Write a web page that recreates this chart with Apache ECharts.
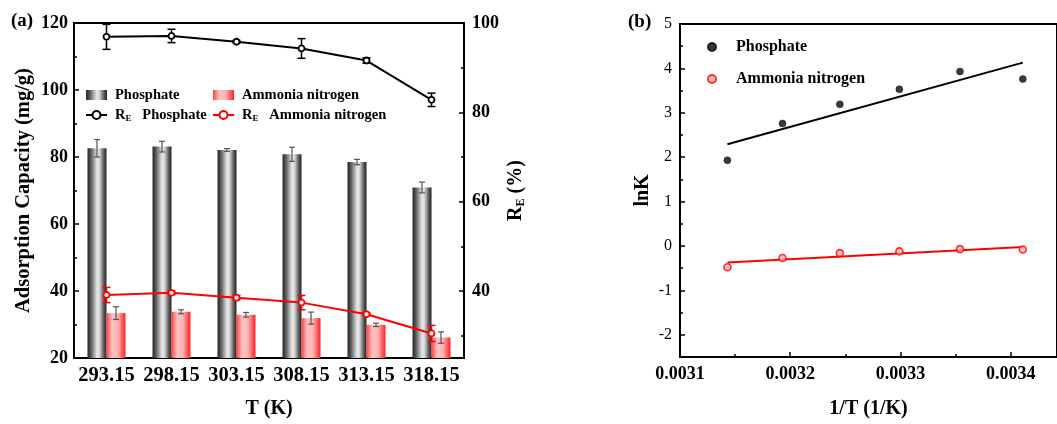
<!DOCTYPE html>
<html>
<head>
<meta charset="utf-8">
<script src="https://cdn.jsdelivr.net/npm/echarts@6/dist/echarts.min.js"></script>
<style>
  html, body { margin: 0; padding: 0; background: #fff; }
  #chart { width: 1057px; height: 424px; }
</style>
</head>
<body>
<div id="chart"></div>
<script>
// ---- (a) adsorption capacity and removal efficiency vs temperature ----
const temps = ['293.15', '298.15', '303.15', '308.15', '313.15', '318.15'];
const capPhosphate = [82.6, 83.1, 82.1, 80.8, 78.5, 70.9];
const capPhosphateErr = [2.6, 1.6, 0.4, 2.1, 0.8, 1.6];
const capAmmonia = [33.4, 33.8, 32.9, 31.9, 29.9, 26.1];
const capAmmoniaErr = [1.9, 0.6, 0.7, 1.8, 0.5, 1.7];
const rePhosphate = [96.9, 97.1, 95.8, 94.3, 91.6, 82.8];
const rePhosphateErr = [2.8, 1.5, 0.3, 2.2, 0.6, 1.5];
const reAmmonia = [39.1, 39.6, 38.5, 37.4, 34.8, 30.5];
const reAmmoniaErr = [1.7, 0.4, 0.5, 1.6, 0.3, 1.8];
const reTicks = [40, 60, 80, 100];
const reMinorTicks = [30, 50, 70, 90];

// ---- (b) van't Hoff plot ----
const invT = [0.003143, 0.003193, 0.003245, 0.003299, 0.003354, 0.003411];
const lnKPhosphate = [1.93, 2.76, 3.19, 3.53, 3.93, 3.76];
const lnKAmmonia = [-0.48, -0.27, -0.16, -0.12, -0.07, -0.08];
const fitX = [0.003143, 0.003411];
const fitPhosphate = [2.29, 4.13];
const fitAmmonia = [-0.37, -0.02];
const lnKTicks = [-2, -1, 0, 1, 2, 3, 4, 5];
const lnKMinorTicks = [-1.5, -0.5, 0.5, 1.5, 2.5, 3.5, 4.5];

const SERIF = '"Liberation Serif", "Times New Roman", serif';
const BAR_W = 19;

const grayFill = new echarts.graphic.LinearGradient(0, 0, 1, 0, [
  { offset: 0, color: '#262626' },
  { offset: 0.18, color: '#5a5a5a' },
  { offset: 0.5, color: '#e6e6e6' },
  { offset: 0.62, color: '#dcdcdc' },
  { offset: 0.85, color: '#5e5e5e' },
  { offset: 1, color: '#202020' }
]);
const redFill = new echarts.graphic.LinearGradient(0, 0, 1, 0, [
  { offset: 0, color: '#ff4040' },
  { offset: 0.3, color: '#ffc2c2' },
  { offset: 0.6, color: '#ffb3b3' },
  { offset: 1, color: '#ff2020' }
]);

function withErr(vals, errs) {
  return vals.map((v, i) => [i, v - errs[i], v + errs[i]]);
}

// vertical error bar with caps, shifted sideways by dx pixels
function errorBars(color, dx, capHalf, width) {
  return function (params, api) {
    const x = api.value(0);
    const lo = api.coord([x, api.value(1)]);
    const hi = api.coord([x, api.value(2)]);
    const cx = lo[0] + dx;
    const style = { stroke: color, lineWidth: width };
    return {
      type: 'group',
      children: [
        { type: 'line', shape: { x1: cx, y1: lo[1], x2: cx, y2: hi[1] }, style },
        { type: 'line', shape: { x1: cx - capHalf, y1: lo[1], x2: cx + capHalf, y2: lo[1] }, style },
        { type: 'line', shape: { x1: cx - capHalf, y1: hi[1], x2: cx + capHalf, y2: hi[1] }, style }
      ]
    };
  };
}

const legendNames = {
  'Phosphate': 'Phosphate',
  'Ammonia nitrogen': 'Ammonia nitrogen',
  'RE Phosphate': '{r|R}{s|E}   Phosphate',
  'RE Ammonia nitrogen': '{r|R}{s|E}   Ammonia nitrogen',
  'lnK Phosphate': 'Phosphate',
  'lnK Ammonia nitrogen': 'Ammonia nitrogen'
};

const legendText = {
  fontFamily: SERIF, fontWeight: 'bold', fontSize: 14.5, color: '#000',
  lineHeight: 16, padding: [0, 0, 0, 3],
  rich: {
    r: { fontFamily: SERIF, fontWeight: 'bold', fontSize: 14.5, lineHeight: 16, color: '#000' },
    s: { fontFamily: SERIF, fontWeight: 'bold', fontSize: 9, lineHeight: 10, verticalAlign: 'bottom', color: '#000' }
  }
};

const axisLineStyle = { color: '#000', width: 2 };
const tickStyle = { color: '#000', width: 1.5 };

const option = {
  animation: false,
  backgroundColor: '#fff',
  title: [
    { text: '(a)', left: 11, top: 12, padding: 0,
      textStyle: { fontFamily: SERIF, fontWeight: 'bold', fontSize: 19, color: '#000' } },
    { text: '(b)', left: 628, top: 13, padding: 0,
      textStyle: { fontFamily: SERIF, fontWeight: 'bold', fontSize: 19, color: '#000' } }
  ],
  legend: [
    {
      orient: 'vertical', left: 85, top: 87, padding: 0, itemGap: 4,
      itemWidth: 21, itemHeight: 10, selectedMode: false,
      data: [{ name: 'Phosphate', icon: 'rect' }, { name: 'RE Phosphate' }],
      formatter: n => legendNames[n], textStyle: legendText
    },
    {
      orient: 'vertical', left: 212, top: 87, padding: 0, itemGap: 4,
      itemWidth: 21, itemHeight: 10, selectedMode: false,
      data: [{ name: 'Ammonia nitrogen', icon: 'rect' }, { name: 'RE Ammonia nitrogen' }],
      formatter: n => legendNames[n], textStyle: legendText
    },
    {
      orient: 'vertical', left: 707, top: 38, padding: 0, itemGap: 14,
      itemWidth: 8, itemHeight: 8, selectedMode: false,
      data: [{ name: 'lnK Phosphate', icon: 'circle' }, { name: 'lnK Ammonia nitrogen', icon: 'circle' }],
      formatter: n => legendNames[n],
      textStyle: { fontFamily: SERIF, fontWeight: 'bold', fontSize: 16, color: '#000', lineHeight: 18, padding: [0, 0, 0, 15] }
    }
  ],
  grid: [
    { left: 74, top: 23, width: 390, height: 338, show: true, borderColor: '#000', borderWidth: 2, backgroundColor: 'transparent' },
    { left: 680, top: 24, width: 379, height: 336, show: true, borderColor: '#000', borderWidth: 2, backgroundColor: 'transparent' }
  ],
  xAxis: [
    {
      type: 'category', gridIndex: 0, data: temps, boundaryGap: true,
      axisLine: { onZero: false, lineStyle: axisLineStyle },
      axisTick: { show: false },
      axisLabel: { interval: 0, margin: 7, fontFamily: SERIF, fontWeight: 'bold', fontSize: 20.5, color: '#000' },
      name: 'T (K)', nameLocation: 'middle', nameGap: 41,
      nameTextStyle: { fontFamily: SERIF, fontWeight: 'bold', fontSize: 20, color: '#000' }
    },
    {
      type: 'value', gridIndex: 1, min: 0.0031, max: 0.003442, interval: 0.0001,
      axisLine: { onZero: false, lineStyle: axisLineStyle },
      axisTick: { inside: true, length: 5, lineStyle: tickStyle },
      minorTick: { show: true, splitNumber: 2, length: 3, lineStyle: tickStyle },
      splitLine: { show: false },
      axisLabel: { margin: 8, fontFamily: SERIF, fontWeight: 'bold', fontSize: 18, color: '#000',
        formatter: v => v.toFixed(4) },
      name: '1/T (1/K)', nameLocation: 'middle', nameGap: 42,
      nameTextStyle: { fontFamily: SERIF, fontWeight: 'bold', fontSize: 20, color: '#000' }
    }
  ],
  yAxis: [
    {
      type: 'value', gridIndex: 0, position: 'left', min: 20, max: 120, interval: 20,
      axisLine: { show: true, onZero: false, lineStyle: axisLineStyle },
      axisTick: { show: true, inside: true, length: 5, lineStyle: tickStyle },
      minorTick: { show: true, splitNumber: 2, length: 3, lineStyle: tickStyle },
      splitLine: { show: false },
      axisLabel: { margin: 6, fontFamily: SERIF, fontWeight: 'bold', fontSize: 18, color: '#000' },
      name: 'Adsorption Capacity (mg/g)', nameLocation: 'middle', nameGap: 40, nameRotate: 90,
      nameTextStyle: { fontFamily: SERIF, fontWeight: 'bold', fontSize: 20.5, color: '#000' }
    },
    {
      type: 'value', gridIndex: 0, position: 'right', min: 25, max: 100,
      axisLine: { show: true, onZero: false, lineStyle: axisLineStyle },
      axisTick: { show: true, inside: true, length: 5, lineStyle: tickStyle, customValues: reTicks },
      splitLine: { show: false },
      axisLabel: { margin: 8, fontFamily: SERIF, fontWeight: 'bold', fontSize: 18, color: '#000', customValues: reTicks },
      name: '{r|R}{s|E}{r| (%)}', nameLocation: 'middle', nameGap: 41, nameRotate: 90,
      nameTextStyle: {
        fontFamily: SERIF, fontWeight: 'bold', fontSize: 20, color: '#000',
        rich: {
          r: { fontFamily: SERIF, fontWeight: 'bold', fontSize: 20, lineHeight: 22, color: '#000' },
          s: { fontFamily: SERIF, fontWeight: 'bold', fontSize: 12, lineHeight: 12, verticalAlign: 'bottom', color: '#000' }
        }
      }
    },
    {
      type: 'value', gridIndex: 0, position: 'right', min: 25, max: 100,
      axisLine: { show: false },
      axisTick: { show: true, inside: true, length: 3, lineStyle: tickStyle, customValues: reMinorTicks },
      axisLabel: { show: false },
      splitLine: { show: false }
    },
    {
      type: 'value', gridIndex: 1, position: 'left', min: -2.5, max: 5,
      axisLine: { show: true, onZero: false, lineStyle: axisLineStyle },
      axisTick: { show: true, inside: true, length: 5, lineStyle: tickStyle, customValues: lnKTicks },
      splitLine: { show: false },
      axisLabel: { margin: 8, fontFamily: SERIF, fontSize: 16, color: '#000', customValues: lnKTicks },
      name: 'lnK', nameLocation: 'middle', nameGap: 27, nameRotate: 90,
      nameTextStyle: { fontFamily: SERIF, fontWeight: 'bold', fontSize: 20, color: '#000' }
    },
    {
      type: 'value', gridIndex: 1, position: 'left', min: -2.5, max: 5,
      axisLine: { show: false },
      axisTick: { show: true, inside: true, length: 3, lineStyle: tickStyle, customValues: lnKMinorTicks },
      axisLabel: { show: false },
      splitLine: { show: false }
    }
  ],
  series: [
    {
      name: 'Phosphate', type: 'bar', xAxisIndex: 0, yAxisIndex: 0,
      data: capPhosphate, barWidth: BAR_W, barGap: '0%',
      itemStyle: { color: grayFill }
    },
    {
      name: 'Ammonia nitrogen', type: 'bar', xAxisIndex: 0, yAxisIndex: 0,
      data: capAmmonia, barWidth: BAR_W, barGap: '0%',
      itemStyle: { color: redFill }
    },
    {
      type: 'custom', xAxisIndex: 0, yAxisIndex: 0, z: 3,
      data: withErr(capPhosphate, capPhosphateErr),
      renderItem: errorBars('#555', -BAR_W / 2, 3, 1.2)
    },
    {
      type: 'custom', xAxisIndex: 0, yAxisIndex: 0, z: 3,
      data: withErr(capAmmonia, capAmmoniaErr),
      renderItem: errorBars('#555', BAR_W / 2, 3, 1.2)
    },
    {
      type: 'custom', xAxisIndex: 0, yAxisIndex: 1, z: 4,
      data: withErr(rePhosphate, rePhosphateErr),
      renderItem: errorBars('#000', 0, 4, 1.5)
    },
    {
      type: 'custom', xAxisIndex: 0, yAxisIndex: 1, z: 4,
      data: withErr(reAmmonia, reAmmoniaErr),
      renderItem: errorBars('#ff0000', 0, 4, 1.5)
    },
    {
      name: 'RE Phosphate', type: 'line', xAxisIndex: 0, yAxisIndex: 1, z: 5,
      data: rePhosphate, symbol: 'circle', symbolSize: 6,
      lineStyle: { color: '#000', width: 2 },
      itemStyle: { color: '#fff', borderColor: '#000', borderWidth: 1.8 }
    },
    {
      name: 'RE Ammonia nitrogen', type: 'line', xAxisIndex: 0, yAxisIndex: 1, z: 5,
      data: reAmmonia, symbol: 'circle', symbolSize: 6,
      lineStyle: { color: '#ff0000', width: 2 },
      itemStyle: { color: '#fff', borderColor: '#ff0000', borderWidth: 1.8 }
    },
    {
      name: 'lnK Phosphate', type: 'scatter', xAxisIndex: 1, yAxisIndex: 3,
      data: invT.map((x, i) => [x, lnKPhosphate[i]]), symbolSize: 7,
      itemStyle: { color: '#0a0a0a', borderColor: '#000', borderWidth: 0.5 }
    },
    {
      name: 'lnK Ammonia nitrogen', type: 'scatter', xAxisIndex: 1, yAxisIndex: 3,
      data: invT.map((x, i) => [x, lnKAmmonia[i]]), symbolSize: 7,
      itemStyle: { color: '#ffb0b0', borderColor: '#ff0000', borderWidth: 1.6 }
    },
    {
      type: 'line', xAxisIndex: 1, yAxisIndex: 3, showSymbol: false, z: 1,
      data: fitX.map((x, i) => [x, fitPhosphate[i]]),
      lineStyle: { color: '#000', width: 2 }
    },
    {
      type: 'line', xAxisIndex: 1, yAxisIndex: 3, showSymbol: false, z: 1,
      data: fitX.map((x, i) => [x, fitAmmonia[i]]),
      lineStyle: { color: '#ff0000', width: 2 }
    }
  ]
};

const chart = echarts.init(document.getElementById('chart'), null, { renderer: 'canvas' });
chart.setOption(option);
</script>
</body>
</html>
